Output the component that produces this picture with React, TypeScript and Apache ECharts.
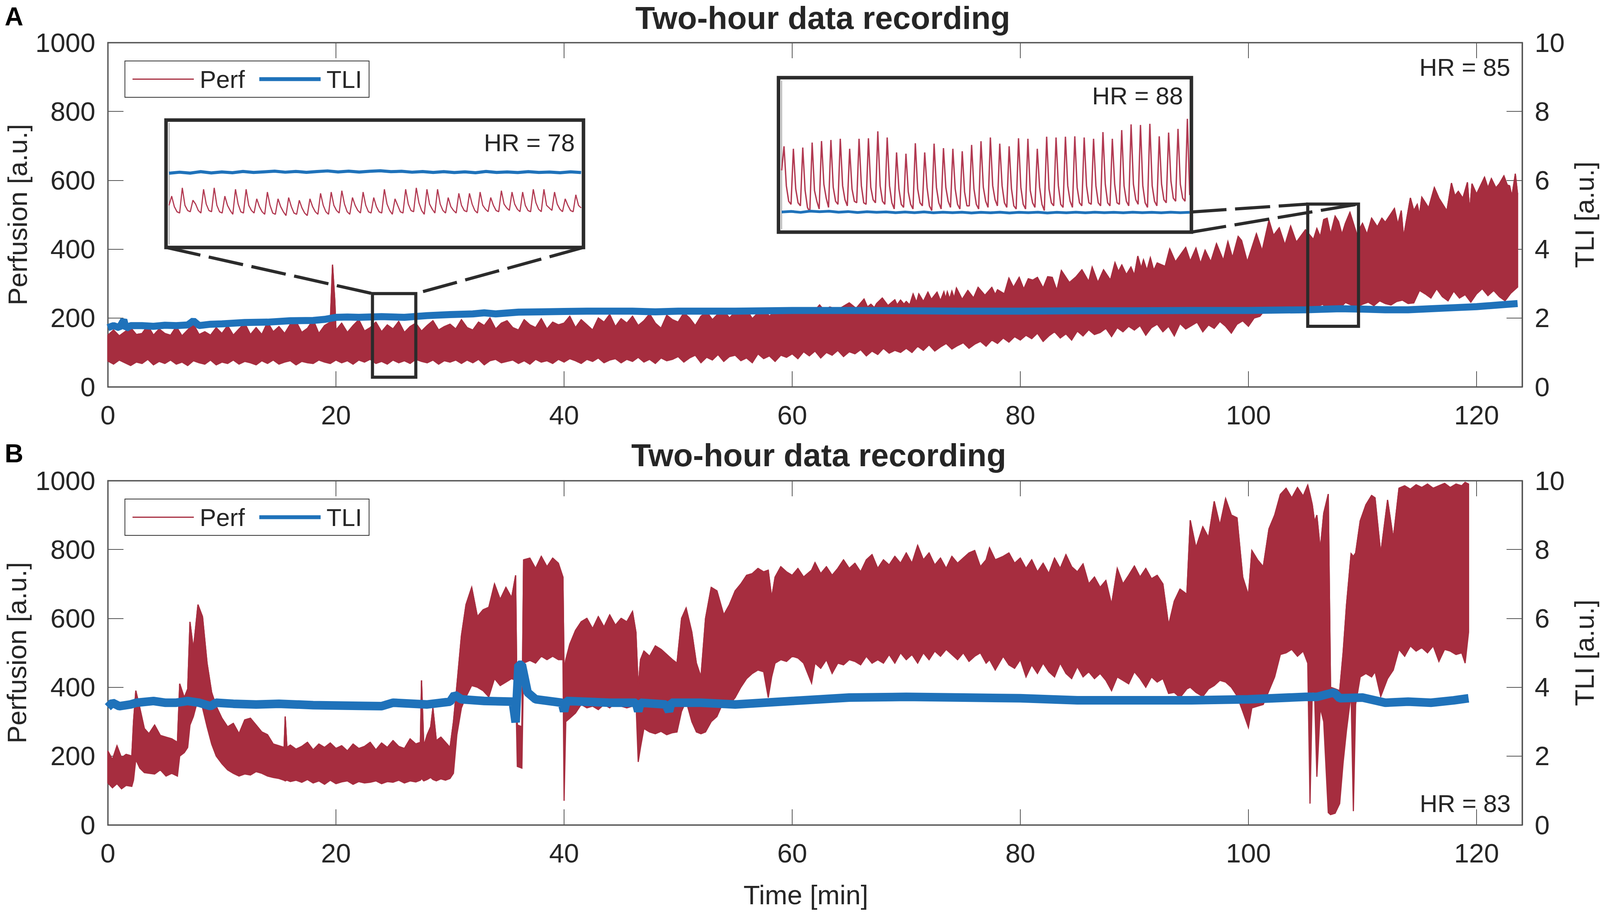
import React, { useEffect, useRef } from "react";
import * as echarts from "echarts";

const PERF = "#a62d3f";
const PERF_THIN = "#b23a52";
const TLI = "#1f72ba";
const INK = "#262626";
const AXIS = "#555555";
const FONT = "'Liberation Sans', Arial, sans-serif";
const TICK_FONT = 69;
const TEXT_FONT = 63;

const xTicks = [0, 20, 40, 60, 80, 100, 120];
const panelTitle = "Two-hour data recording";

// panel A: top and bottom edges of the perfusion trace
const timeHighA = [
  0, 0.5, 1, 1.5, 2, 2.5, 3, 3.5, 4, 4.5, 5, 5.5, 6, 6.5, 7, 7.5, 8, 8.5, 9, 9.5,
  10, 10.5, 11, 11.5, 12, 12.5, 13, 13.5, 14, 14.5, 15, 15.5, 16, 16.5, 17, 17.5, 18, 18.5, 19, 19.5, 19.7, 19.9,
  20, 20.5, 21, 21.5, 22, 22.5, 23, 23.5, 24, 24.5, 25, 25.5, 26, 26.5, 27, 27.5, 28, 28.5, 29, 29.5,
  30, 30.5, 31, 31.5, 32, 32.5, 33, 33.5, 34, 34.5, 35, 35.5, 36, 36.5, 37, 37.5, 38, 38.5, 39, 39.5,
  40, 40.5, 41, 41.5, 42, 42.5, 43, 43.5, 44, 44.5, 45, 45.5, 46, 46.5, 47, 47.5, 48, 48.5, 49, 49.5,
  50, 50.5, 51, 51.5,
  52, 52.5, 53, 53.5, 54, 54.5, 55, 55.5, 56, 56.5, 57, 57.5, 58, 58.5, 59, 59.5, 60, 60.5, 61, 61.5, 62,
  62.4, 62.8, 63.3, 63.8, 64.3, 65, 65.6, 66.3, 66.6, 66.9, 67.2, 67.4, 67.9, 68.4, 69, 69.2, 69.5, 69.8, 70, 70.3,
  70.6, 70.9, 71.1, 71.5, 71.9, 72.2, 72.7, 73, 73.3, 73.45, 73.6, 73.8, 74, 74.2, 74.4, 74.9, 75.4, 75.9, 76.3, 76.9,
  77.5, 77.8, 78, 78.6, 79, 79.4, 79.9, 80.3, 80.7, 81.1, 81.5, 82, 82.4, 82.8, 83.2, 83.6, 84.3, 84.9, 85.4, 86,
  86.3, 86.8, 87.3, 87.9, 88.3, 88.6, 88.9, 89.3, 89.7, 90, 90.3, 90.6, 90.8, 91.1, 91.4, 91.7, 92, 92.7, 93.1, 93.6,
  94.5, 94.9, 95.4, 95.8, 96.2, 96.7, 97.2, 97.8, 98.2, 98.6, 99.1, 99.4, 99.9, 100.7, 101.2, 101.8, 102.2, 102.7, 103.2, 103.7,
  104.2, 105, 105.7, 106, 106.3, 106.6, 106.9, 107.2, 107.6, 107.9, 108.2, 108.5, 108.9, 109.5, 110, 110.4, 110.8, 111.3, 111.7, 112,
  112.8, 113.1, 113.4, 113.6, 114.2, 114.5, 114.8, 115, 115.2, 115.8, 116.3, 116.7, 117.4, 117.8, 118.1, 118.4, 118.8, 119.2, 119.4, 119.6,
  120, 120.7, 121, 121.3, 121.7, 122, 122.4, 122.7, 122.9, 123.1, 123.4, 123.6,
];
const highA = [
  150, 165, 148, 160, 172, 152, 155, 178, 150, 168, 155, 150, 175, 148, 165, 182, 152, 160, 150, 172,
  155, 178, 150, 168, 185, 152, 172, 152, 188, 160, 175, 155, 182, 190, 158, 170, 195, 155, 178, 188, 355, 250,
  165, 185, 158, 178, 195, 162, 172, 188, 160, 180, 168, 190, 158, 175, 185, 162, 178, 192, 165, 175,
  182, 168, 195, 172, 165, 188, 178, 200, 168, 185, 192, 172, 165, 195, 180, 172, 198, 168, 188, 180,
  185, 205, 172, 195, 180, 165, 200, 188, 210, 175, 198, 185, 205, 178, 192, 212, 185, 170, 208, 195,
  188, 215, 200, 178,
  205, 218, 195, 212, 222, 200, 218, 208, 225, 198, 215, 228, 205, 220, 210, 226, 212, 228, 218, 225, 222,
  238, 222, 232, 226, 230, 244, 228, 255, 232, 240, 230, 242, 258, 236, 253, 238, 252, 240, 248, 238,
  270, 245, 270, 248, 275, 254, 275, 250, 276, 256, 276, 255, 278, 258, 287, 254, 280, 258, 289, 266,
  289, 268, 282, 270, 316, 289, 318, 284, 314, 310, 318, 287, 320, 318, 280, 338, 303, 320, 340, 306,
  348, 303, 340, 310, 361, 335, 354, 326, 348, 324, 380, 345, 369, 338, 375, 338, 360, 350, 401, 363,
  405, 365, 403, 358, 397, 363, 416, 367, 422, 375, 437, 425, 363, 445, 395, 484, 440, 462, 412, 467,
  420, 456, 428, 460, 436, 486, 490, 443, 496, 480, 443, 475, 507, 443, 475, 443, 490, 465, 490, 478,
  518, 472, 512, 435, 549, 512, 530, 500, 551, 520, 579, 548, 511, 592, 555, 568, 548, 594, 511, 590,
  560, 609, 578, 605, 578, 590, 613, 586, 584, 553, 619, 560,
];
const timeLowA = [
  0, 0.5, 1, 1.5, 2, 2.5, 3, 3.5, 4, 4.5, 5, 5.5, 6, 6.5, 7, 7.5, 8, 8.5, 9, 9.5,
  10, 10.5, 11, 11.5, 12, 12.5, 13, 13.5, 14, 14.5, 15, 15.5, 16, 16.5, 17, 17.5, 18, 18.5, 19, 19.5,
  20, 20.5, 21, 21.5, 22, 22.5, 23, 23.5, 24, 24.5, 25, 25.5, 26, 26.5, 27, 27.5, 28, 28.5, 29, 29.5,
  30, 30.5, 31, 31.5, 32, 32.5, 33, 33.5, 34, 34.5, 35, 35.5, 36, 36.5, 37, 37.5, 38, 38.5, 39, 39.5,
  40, 40.5, 41, 41.5, 42, 42.5, 43, 43.5, 44, 44.5, 45, 45.5, 46, 46.5, 47, 47.5, 48, 48.5, 49, 49.5,
  50, 50.5, 51, 51.5, 52, 52.5, 53, 53.5, 54, 54.5, 55, 55.5, 56, 56.5, 57, 57.5, 58, 58.5, 59, 59.5,
  60, 60.5, 61, 61.5, 62, 62.5, 63, 63.5, 64, 64.5, 65, 65.5, 66, 66.5, 67, 67.5, 68, 68.5, 69, 69.5,
  70, 70.5, 71, 71.5, 72, 72.5, 73, 73.5, 74, 74.5, 75, 75.5, 76, 76.5, 77, 77.5, 78, 78.5, 79, 79.5,
  80, 80.5, 81, 81.5, 82, 82.5, 83, 83.5, 84, 84.5, 85, 85.5, 86, 86.5, 87, 87.5, 88, 88.5, 89, 89.5,
  90, 90.5, 91, 91.5, 92, 92.5, 93, 93.5, 94, 94.5, 95, 95.5, 96, 96.5, 97, 97.5, 98, 98.5, 99, 99.5,
  100, 100.5, 101, 101.5, 102, 102.5, 103, 103.5, 104, 104.5, 105, 105.5, 106, 106.5, 107, 107.5, 108, 108.5, 109, 109.5,
  110, 110.5, 111, 111.5, 112, 112.5, 113, 113.5,
  114, 114.5, 115, 115.5, 116, 116.5, 117, 117.5, 118, 118.5, 119, 119.5, 120, 120.5, 121, 121.5, 122, 122.5, 123, 123.6,
];
const lowA = [
  75, 66, 78, 70, 62, 72, 68, 80, 64, 74, 68, 78, 66, 72, 62, 76, 70, 66, 78, 64,
  72, 68, 78, 66, 74, 70, 64, 76, 68, 78, 66, 72, 76, 64, 74, 70, 68, 78, 72, 68,
  78, 70, 76, 66, 78, 72, 80, 68, 74, 66, 78, 70, 76, 68, 80, 74, 70, 78, 66, 76,
  72, 78, 68, 78, 70, 80, 64, 76, 80, 70, 74, 78, 68, 76, 66, 80, 72, 76, 68, 80,
  72, 82, 76, 68, 80, 74, 84, 70, 78, 82, 70, 80, 74, 86, 72, 80, 68, 84, 76, 80,
  88, 72, 84, 92, 70, 86, 78, 94, 74, 88, 92, 76, 84, 70, 96, 82, 90, 74, 92, 86,
  96, 82, 102, 90, 104, 84, 100, 92, 106, 88, 102, 96, 108, 90, 104, 94, 112, 98, 106, 100,
  112, 100, 118, 106, 122, 104, 116, 126, 110, 120, 128, 112, 124, 132, 118, 136, 126, 142, 130, 146,
  136, 150, 140, 156, 132, 148, 160, 142, 154, 136, 162, 148, 166, 152, 158, 170, 146, 172, 160, 176,
  165, 178, 150, 172, 182, 160, 176, 148, 184, 168, 178, 188, 160, 180, 170, 190, 176, 156, 182, 192,
  176, 200, 205, 225, 215, 232, 222, 218, 228, 235, 222, 218, 232, 240, 226, 236, 228, 245, 238, 232,
  240, 246, 236, 250, 242, 238, 248, 252,
  242, 244, 280, 270, 258, 285, 262, 250, 278, 258, 268, 246, 270, 285, 265, 280, 262, 250, 272, 290,
];
const tliTimeA = [
  0, 0.5, 1, 1.4, 1.6, 2, 3, 4, 5, 6, 7, 7.5, 8, 9, 10, 12, 14, 16, 18, 19, 20, 21, 22, 24, 26, 28, 30, 32, 33, 34,
  36, 38, 40, 42, 44, 46, 48, 50, 55, 60, 65, 70, 75, 80, 85, 90, 95, 100, 105, 108, 110, 112, 114, 116, 118, 120, 122, 123.6,
];
const tliA = [
  1.72, 1.78, 1.72, 1.95, 1.7, 1.78, 1.78, 1.76, 1.79, 1.78, 1.8, 1.92, 1.78, 1.82, 1.83, 1.87, 1.88, 1.92, 1.93, 1.96, 2.02, 2.03, 2.02, 2.04, 2.02, 2.07, 2.1, 2.12, 2.15, 2.12,
  2.17, 2.18, 2.19, 2.2, 2.2, 2.2, 2.18, 2.2, 2.2, 2.22, 2.22, 2.21, 2.2, 2.2, 2.21, 2.21, 2.22, 2.22, 2.24, 2.27, 2.26, 2.24, 2.24, 2.27, 2.3, 2.33, 2.38, 2.42,
];

// panel B
const timeB = [
  0, 0.4, 0.8, 1.2, 1.6, 2.1, 2.25, 2.45, 2.8, 3.2,
  3.6, 4.1, 4.6, 5.1, 5.6, 6.1, 6.3, 6.7, 7, 7.2,
  7.5, 7.9, 8.3, 8.7, 9.1, 9.5, 10, 10.5, 11, 11.5,
  12, 12.5, 13, 13.5, 14, 14.5, 15, 15.45, 15.55, 15.7,
  16, 16.5, 17, 17.5, 18, 18.5, 19, 19.5, 20, 20.5,
  21, 21.5, 22, 22.5, 23, 23.5, 24, 24.5, 25, 25.5,
  26, 26.5, 27, 27.4, 27.5, 27.7, 28, 28.3, 28.5, 28.8,
  29.2, 29.6, 30, 30.3, 30.6, 31, 31.4, 31.9, 32.4, 32.9,
  33.4, 33.9, 34.4, 34.9, 35.4, 35.75, 35.9, 36.3, 36.45, 37,
  37.5, 38, 38.5, 39, 39.5, 39.9, 40, 40.15, 40.5, 41,
  41.5, 42, 42.5, 43, 43.5, 44, 44.5, 45, 45.5, 46,
  46.3, 46.5, 46.7, 47, 47.5, 48, 48.5, 49, 49.5, 49.9,
  50.3, 50.7, 51.2, 51.6, 52, 52.4, 52.9, 53.4, 54, 54.5,
  55, 55.5, 56, 56.5, 57, 57.5, 57.9, 58.2, 58.5, 59,
  59.5, 60, 60.5, 61, 61.7, 62, 62.5, 63, 63.5, 64,
  64.5, 65, 65.5, 66, 66.5, 67, 67.5, 68, 68.5, 69,
  69.5, 70, 70.5, 71, 71.5, 72, 72.5, 73, 73.5, 74,
  74.5, 75, 75.5, 76, 76.5, 77, 77.3, 77.8, 78.5, 79,
  79.5, 80, 80.5, 81, 81.5, 82, 82.5, 83, 83.5, 84,
  84.5, 85, 85.5, 86, 86.5, 87, 87.5, 88, 88.5, 89,
  89.5, 90, 90.5, 91, 91.5, 92, 92.5, 93, 93.5, 94,
  94.6, 94.9, 95.4, 96, 96.5, 97, 97.5, 98, 98.5, 99,
  99.5, 100, 100.3, 100.8, 101.3, 101.8, 102.3, 102.8, 103.3, 103.8,
  104.3, 104.8, 105.2, 105.4, 105.6, 105.8, 106, 106.3, 106.6, 107,
  107.2, 107.6, 108, 108.3, 108.6, 109, 109.2, 109.4, 109.8, 110.3,
  110.8, 111.1, 111.6, 112.2, 112.7, 113.2, 113.7, 114.2, 114.7, 115.2,
  115.7, 116.2, 116.7, 117.2, 117.7, 118.2, 118.7, 119, 119.3,
];
const highB = [
  215, 190, 230, 195, 205, 200, 300, 390, 340, 280,
  265, 290, 260, 255, 250, 240, 410, 370, 395, 590,
  510, 640, 605, 470, 385, 345, 310, 285, 295, 265,
  305, 310, 290, 270, 262, 235, 230, 225, 315, 225,
  232, 220, 228, 240, 218, 235, 225, 238, 222, 230,
  215, 235, 222, 228, 240, 218, 238, 225, 245, 228,
  222, 250, 235, 240, 420, 230, 262, 285, 340, 245,
  255, 240, 225, 300, 405, 550, 640, 690, 605, 625,
  632, 700, 655, 690, 660, 725, 290, 285, 770, 775,
  745, 780, 750, 775, 760, 720, 450, 480, 525, 565,
  590, 600, 570, 605, 575, 610, 580, 600, 590, 620,
  560, 400, 480, 505, 490, 520, 510, 495, 480, 470,
  600, 630, 560, 470, 430, 600, 690, 680, 610, 640,
  680, 700, 725, 730, 745, 735, 740, 660, 720, 750,
  735, 725, 745, 720, 740, 762, 730, 750, 725, 745,
  770, 745, 760, 735, 770, 785, 745, 770, 755, 780,
  760, 790, 760, 812, 770, 790, 755, 775, 745, 780,
  760, 775, 790, 797, 750, 770, 805, 770, 780, 790,
  760, 775, 745, 770, 735, 760, 730, 775, 745, 785,
  750, 735, 758, 700, 720, 690, 710, 640, 745, 700,
  725, 752, 720, 745, 715, 725, 700, 580, 650, 685,
  670, 885, 805, 866, 835, 940, 870, 948, 900, 892,
  720, 667, 797, 770, 750, 860, 900, 960, 978, 950,
  980, 955, 987, 960, 930, 880, 900, 800, 905, 961,
  400, 395, 390, 500, 640, 788, 780, 790, 883, 930,
  957, 950, 788, 944, 832, 978, 985, 975, 988, 980,
  990, 978, 985, 992, 980, 990, 985, 995, 990,
];
const lowB = [
  122, 108, 120, 105, 115, 112, 130, 190, 165, 152,
  150, 148, 160, 142, 150, 142, 200, 210, 225, 290,
  315, 365, 340, 285, 235, 200, 178, 160, 150, 142,
  148, 145, 155, 150, 142, 138, 135, 130, 128, 130,
  126, 130, 124, 132, 122, 128, 118, 130, 120, 125,
  128, 118, 126, 122, 124, 128, 120, 126, 124, 130,
  122, 128, 125, 130, 135, 128, 132, 138, 132, 128,
  134, 130, 135, 150, 262, 340, 372, 405, 400, 390,
  372, 425, 405, 415, 425, 420, 170, 165, 470, 478,
  470, 490, 480, 490, 480, 480, 70, 300, 310, 325,
  350, 340, 345, 335, 350, 340, 355, 345, 340, 345,
  360, 183, 225, 280, 270, 265, 272, 262, 268, 270,
  330, 360, 300, 270, 265, 270, 300, 315, 360, 350,
  370, 400, 425, 440, 450, 445, 370, 430, 470, 480,
  475, 490, 485, 470, 412, 470, 455, 480, 440, 470,
  465, 480, 475, 465, 490, 470, 480, 470, 495, 470,
  500, 480, 495, 470, 500, 480, 505, 490, 510, 495,
  480, 500, 475, 490, 500, 470, 480, 450, 490, 465,
  455, 480, 430, 465, 440, 470, 445, 430, 470, 440,
  425, 460, 430, 445, 425, 440, 420, 390, 430, 420,
  410, 445, 425, 400, 430, 415, 425, 382, 385, 370,
  395, 400, 385, 373, 395, 405, 420, 415, 400, 375,
  330, 283, 340, 345, 350, 390, 430, 495, 500, 510,
  490, 505, 470, 62, 390, 382, 140, 340, 300, 36,
  30, 34, 62, 180, 275, 380, 40, 350, 430, 440,
  430, 445, 373, 425, 450, 510, 490, 520, 505, 515,
  500, 520, 475, 510, 505, 495, 500, 470, 560,
];
const tliTimeB = [
  0, 0.4, 1, 2, 2.5, 4, 5, 6, 7, 8, 9, 9.5, 11, 13, 15, 18, 22, 24, 25, 28, 30, 30.4, 31, 33, 35.5, 35.75, 36, 36.3, 36.8, 37.5,
  39.8, 40, 40.2, 44, 46.3, 46.5, 46.7, 48.9, 49.2, 49.4, 52, 55, 60, 65, 70, 75, 80, 85, 90, 95, 100, 105, 106, 107.5, 108, 110, 112, 114, 116, 118, 119.3,
];
const tliB = [
  3.42, 3.55, 3.45, 3.5, 3.55, 3.6, 3.55, 3.55, 3.6, 3.55, 3.45, 3.55, 3.52, 3.5, 3.52, 3.48, 3.46, 3.45, 3.55, 3.5, 3.58, 3.78, 3.65, 3.6, 3.58, 2.98, 4.65, 4.65, 3.85, 3.65,
  3.55, 3.3, 3.6, 3.55, 3.55, 3.3, 3.55, 3.5, 3.3, 3.55, 3.55, 3.5, 3.6, 3.7, 3.72, 3.7, 3.68, 3.62, 3.62, 3.62, 3.65, 3.72, 3.72, 3.85, 3.68, 3.7, 3.55, 3.58, 3.55, 3.62, 3.68,
];

// insets, in percent of the inset's height; one beat is trough, peak, notch, low
const insetPerf78 = [
  33, 40.2, 32, 28, 27, 46.7, 33, 29, 28, 37, 34, 29, 27, 45.6, 34, 29, 28, 46.7, 33, 28,
  27, 40.2, 33, 29, 26, 45.6, 34, 28, 27, 45.6, 33, 29, 27, 38.1, 32, 28, 26, 43.4, 33, 27,
  26, 38.1, 32, 28, 25, 39.1, 32, 27, 26, 37, 31, 27, 25, 38.1, 32, 28, 26, 42.4, 33, 28,
  26, 43.4, 33, 29, 27, 44.5, 34, 28, 26, 39.1, 33, 29, 27, 43.4, 33, 28, 27, 39.1, 32, 28,
  27, 45.6, 34, 29, 26, 38.1, 33, 28, 27, 45.6, 34, 29, 28, 46.7, 35, 29, 26, 45.6, 34, 30,
  27, 45.6, 34, 29, 27, 39.1, 32, 29, 27, 42.4, 33, 29, 28, 42.4, 34, 29, 27, 43.4, 33, 30,
  28, 39.1, 33, 29, 28, 44.5, 34, 31, 29, 43.4, 34, 30, 28, 43.4, 33, 29, 28, 45.6, 35, 30,
  28, 45.6, 33, 31, 29, 43.4, 34, 30, 28, 38.1, 33, 29, 28, 41.3, 33, 31,
];
const insetTli78 = [
  58.2, 59, 58.3, 59.4, 58.4, 59.2, 58.6, 59.6, 58.8, 59.3, 59.8, 59, 59.6, 58.9, 59.5, 60, 59.2, 59.8, 59.1, 59.7,
  60.1, 59.4, 59.7, 59, 59.5, 58.8, 59.4, 58.7, 59.3, 58.6, 59.6, 58.8, 59.2, 58.7, 59.4, 58.8, 59.1, 58.6, 59.3, 58.7,
];
const insetPerf88 = [
  40, 55.6, 30, 20, 18, 54, 28, 19, 17, 54.8, 27, 16, 13, 58, 27, 20, 15, 59, 31, 22,
  16, 59.7, 29, 20, 18, 60.5, 30, 21, 17, 54, 28, 20, 19, 60.5, 30, 19, 18, 60.8, 29, 21,
  19, 65.3, 30, 20, 18, 61.3, 30, 19, 15, 51.6, 28, 18, 16, 50.8, 26, 18, 15, 57.6, 28, 19,
  17, 51.6, 29, 17, 14, 57.3, 29, 19, 15, 54.4, 29, 20, 16, 54, 28, 18, 15, 52.4, 26, 17,
  17, 56.5, 28, 18, 15, 58.9, 29, 20, 16, 61.3, 30, 21, 17, 57.3, 30, 19, 16, 55.6, 28, 17,
  15, 60.8, 29, 18, 15, 60.5, 27, 19, 16, 54, 29, 18, 14, 61.8, 28, 19, 17, 61.3, 30, 18,
  16, 61.8, 30, 20, 16, 62.1, 29, 19, 17, 61.3, 30, 19, 18, 60.5, 30, 19, 17, 64.8, 31, 19,
  17, 60.5, 31, 19, 18, 66.1, 30, 20, 17, 69.8, 31, 21, 18, 69.4, 30, 19, 16, 70.2, 30, 20,
  17, 62.1, 31, 21, 19, 64.5, 33, 22, 20, 66.9, 31, 22, 20, 73.4, 24,
];
const insetTli88 = [
  13, 13.4, 12.8, 13.6, 13.2, 13.5, 12.9, 13.3, 12.7, 13.2, 12.8, 13.1, 12.6, 13, 12.6, 13.1, 12.5, 12.9, 12.6, 12.9,
  12.4, 12.8, 12.5, 12.9, 12.4, 12.8, 12.6, 12.9, 12.4, 12.8, 12.5, 12.9, 12.5, 12.9, 12.6, 12.8, 12.5, 12.9, 12.6, 12.8, 12.5, 12.9, 12.6, 12.8,
];

// frames, zoom boxes and their dashed links, in panel A axis units [x0, y0, x1, y1]
const insetFrames = [[5.1, 405, 41.7, 775], [58.8, 449.5, 95, 898]];
const zoomBoxes = [[23.2, 28, 27, 271], [105.2, 176, 109.65, 531]];
const zoomLinks = [
  [5.1, 405, 23.2, 271],
  [41.7, 405, 27, 271],
  [95, 508, 105.2, 531],
  [95, 449.5, 109.65, 531],
];

const band = (tHi: number[], hi: number[], tLo: number[], lo: number[]) => (params: any, api: any) => {
  if (params.dataIndex !== 0) return null;
  const upper = tHi.map((t, i) => api.coord([t, hi[i]]));
  const lower = tLo.map((t, i) => api.coord([t, lo[i]])).reverse();
  return {
    type: "polygon",
    shape: { points: upper.concat(lower) },
    style: { fill: PERF, stroke: PERF, lineWidth: 3 },
  };
};

const annotations = (_params: any, api: any) => {
  const rect = (r: number[], width: number) => {
    const a = api.coord([r[0], r[3]]);
    const b = api.coord([r[2], r[1]]);
    return {
      type: "rect",
      shape: { x: a[0], y: a[1], width: b[0] - a[0], height: b[1] - a[1] },
      style: { fill: "none", stroke: "#2b2b2b", lineWidth: width },
    };
  };
  const links = zoomLinks.map((l) => {
    const a = api.coord([l[0], l[1]]);
    const b = api.coord([l[2], l[3]]);
    return {
      type: "line",
      shape: { x1: a[0], y1: a[1], x2: b[0], y2: b[1] },
      style: { stroke: "#2b2b2b", lineWidth: 8, lineDash: [90, 22] },
    };
  });
  return {
    type: "group",
    children: [...insetFrames.map((r) => rect(r, 9)), ...zoomBoxes.map((r) => rect(r, 8)), ...links],
  };
};

const mainX = (gridIndex: number, position: string, extra: any = {}) => ({
  type: "value",
  gridIndex,
  position,
  min: 0,
  max: 124,
  splitLine: { show: false },
  axisLine: { show: true, onZero: false, lineStyle: { color: AXIS, width: 3 } },
  axisTick: { show: true, inside: true, length: 40, customValues: xTicks, lineStyle: { color: AXIS, width: 2 } },
  axisLabel: {
    show: position === "bottom",
    margin: 38,
    customValues: xTicks,
    fontSize: TICK_FONT,
    color: INK,
    fontFamily: FONT,
  },
  ...extra,
});

const mainY = (gridIndex: number, position: string, max: number, interval: number, name: string, nameGap: number) => ({
  type: "value",
  gridIndex,
  position,
  min: 0,
  max,
  interval,
  name,
  nameLocation: "middle",
  nameGap,
  nameTextStyle: { fontSize: TICK_FONT, color: INK, fontFamily: FONT },
  splitLine: { show: false },
  axisLine: { show: true, onZero: false, lineStyle: { color: AXIS, width: 3 } },
  axisTick: { show: true, inside: true, length: 40, lineStyle: { color: AXIS, width: 2 } },
  axisLabel: { margin: 32, fontSize: TICK_FONT, color: INK, fontFamily: FONT, formatter: (v: number) => String(v) },
});

const insetX = (gridIndex: number, max: number) => ({
  type: "value",
  gridIndex,
  min: 0,
  max,
  show: false,
  splitLine: { show: false },
});

const insetY = (gridIndex: number, min: number, max: number) => ({
  type: "value",
  gridIndex,
  min,
  max,
  splitLine: { show: false },
  axisLine: { show: true, onZero: false, lineStyle: { color: "#999999", width: 2 } },
  axisTick: { show: false },
  axisLabel: { show: false },
});

const buildOption = (sx: number): any => {
  const panelLegend = (top: number) => ({
    left: 337 * sx,
    top,
    orient: "horizontal",
    padding: [15, 18, 15, 18],
    itemWidth: 157,
    itemHeight: 66,
    itemGap: 32,
    backgroundColor: "#ffffff",
    borderColor: "#333333",
    borderWidth: 2,
    borderRadius: 0,
    selectedMode: false,
    textStyle: { fontSize: TEXT_FONT, color: INK, fontFamily: FONT, padding: [0, 0, 0, 10] },
    data: [
      { name: "Perf", lineStyle: { width: 3 }, itemStyle: { opacity: 0 } },
      { name: "TLI", lineStyle: { width: 10 }, itemStyle: { opacity: 0 } },
    ],
  });
  const hrLabel = (text: string, x: number, y: number) => ({
    type: "text",
    x: x * sx,
    y,
    z: 30,
    style: { text, fill: INK, font: `${TEXT_FONT}px ${FONT}`, textAlign: "right", textVerticalAlign: "middle" },
  });
  const panelLetter = (text: string, y: number) => ({
    type: "text",
    x: 12,
    y,
    z: 30,
    style: { text, fill: "#000000", font: `900 66px ${FONT}`, textAlign: "left", textVerticalAlign: "middle" },
  });
  const titleStyle = { fontSize: 82, fontWeight: "bold", color: INK, fontFamily: FONT };
  const frame = { show: true, borderColor: AXIS, borderWidth: 3, backgroundColor: "#ffffff", outerBoundsMode: "none" };

  return {
    animation: false,
    backgroundColor: "#ffffff",
    title: [
      { text: panelTitle, left: 2220 * sx, top: 4, textAlign: "center", padding: 0, textStyle: titleStyle },
      { text: panelTitle, left: 2209 * sx, top: 1123, textAlign: "center", padding: 0, textStyle: titleStyle },
    ],
    legend: [panelLegend(156), panelLegend(1277)],
    grid: [
      { left: 291 * sx, width: 3816 * sx, top: 109, height: 881, ...frame },
      { left: 291 * sx, width: 3816 * sx, top: 1230, height: 881, ...frame },
      { left: 456 * sx, width: 1112 * sx, top: 315, height: 310, outerBoundsMode: "none" },
      { left: 2109 * sx, width: 1101 * sx, top: 207, height: 379, outerBoundsMode: "none" },
    ],
    xAxis: [
      mainX(0, "bottom"),
      mainX(0, "top"),
      mainX(1, "bottom", {
        name: "Time [min]",
        nameLocation: "middle",
        nameGap: 145,
        nameTextStyle: { fontSize: TICK_FONT, color: INK, fontFamily: FONT, padding: [0, 47, 0, 0] },
      }),
      mainX(1, "top"),
      insetX(2, insetPerf78.length - 1),
      insetX(3, insetPerf88.length - 1),
    ],
    yAxis: [
      mainY(0, "left", 1000, 200, "Perfusion [a.u.]", 190),
      mainY(0, "right", 10, 2, "TLI [a.u.]", 125),
      mainY(1, "left", 1000, 200, "Perfusion [a.u.]", 198),
      mainY(1, "right", 10, 2, "TLI [a.u.]", 125),
      insetY(2, 2.5, 97.5),
      insetY(3, 2, 98),
    ],
    series: [
      { type: "custom", name: "Perf fill A", xAxisIndex: 0, yAxisIndex: 0, z: 2, silent: true, renderItem: band(timeHighA, highA, timeLowA, lowA), data: timeHighA.map((t, i) => [t, highA[i]]), encode: { x: 0, y: 1 } },
      { type: "line", name: "Perf", xAxisIndex: 0, yAxisIndex: 0, z: 3, symbol: "none", lineStyle: { color: PERF, width: 3 }, itemStyle: { color: PERF }, data: timeHighA.map((t, i) => [t, highA[i]]) },
      { type: "line", name: "TLI", xAxisIndex: 0, yAxisIndex: 1, z: 4, symbol: "none", lineStyle: { color: TLI, width: 18 }, itemStyle: { color: TLI }, data: tliTimeA.map((t, i) => [t, tliA[i]]) },
      { type: "custom", name: "Zoom boxes", xAxisIndex: 0, yAxisIndex: 0, z: 6, silent: true, renderItem: annotations, data: [[0, 0]] },

      { type: "custom", name: "Perf fill B", xAxisIndex: 2, yAxisIndex: 2, z: 2, silent: true, renderItem: band(timeB, highB, timeB, lowB), data: timeB.map((t, i) => [t, highB[i]]), encode: { x: 0, y: 1 } },
      { type: "line", name: "Perf", xAxisIndex: 2, yAxisIndex: 2, z: 3, symbol: "none", lineStyle: { color: PERF, width: 3 }, itemStyle: { color: PERF }, data: timeB.map((t, i) => [t, highB[i]]) },
      { type: "line", name: "TLI", xAxisIndex: 2, yAxisIndex: 3, z: 4, symbol: "none", lineStyle: { color: TLI, width: 22 }, itemStyle: { color: TLI }, data: tliTimeB.map((t, i) => [t, tliB[i]]) },

      { type: "line", name: "Perf 78", xAxisIndex: 4, yAxisIndex: 4, z: 5, symbol: "none", lineStyle: { color: PERF_THIN, width: 3 }, data: insetPerf78.map((v, i) => [i, v]) },
      { type: "line", name: "TLI 78", xAxisIndex: 4, yAxisIndex: 4, z: 5, symbol: "none", lineStyle: { color: TLI, width: 8 }, data: insetTli78.map((v, i) => [(i * (insetPerf78.length - 1)) / (insetTli78.length - 1), v]) },
      { type: "line", name: "Perf 88", xAxisIndex: 5, yAxisIndex: 5, z: 5, symbol: "none", lineStyle: { color: PERF_THIN, width: 3.5 }, data: insetPerf88.map((v, i) => [i, v]) },
      { type: "line", name: "TLI 88", xAxisIndex: 5, yAxisIndex: 5, z: 5, symbol: "none", lineStyle: { color: TLI, width: 7 }, data: insetTli88.map((v, i) => [(i * (insetPerf88.length - 1)) / (insetTli88.length - 1), v]) },
    ],
    graphic: [
      panelLetter("A", 42),
      panelLetter("B", 1160),
      hrLabel("HR = 85", 4075, 172),
      hrLabel("HR = 83", 4076, 2056),
      hrLabel("HR = 78", 1551, 365),
      hrLabel("HR = 88", 3192, 245),
    ],
  };
};

export default function App() {
  const chartRef = useRef<HTMLDivElement>(null);

  useEffect(() => {
    if (!chartRef.current) return;
    const chart = echarts.init(chartRef.current, null, { renderer: "svg" });
    // the window can be narrower than the reference, so x positions follow its width
    chart.setOption(buildOption(chart.getWidth() / 4317));
    return () => chart.dispose();
  }, []);

  return <div ref={chartRef} style={{ position: "fixed", left: 0, top: 0, width: "100vw", height: "100vh" }} />;
}
